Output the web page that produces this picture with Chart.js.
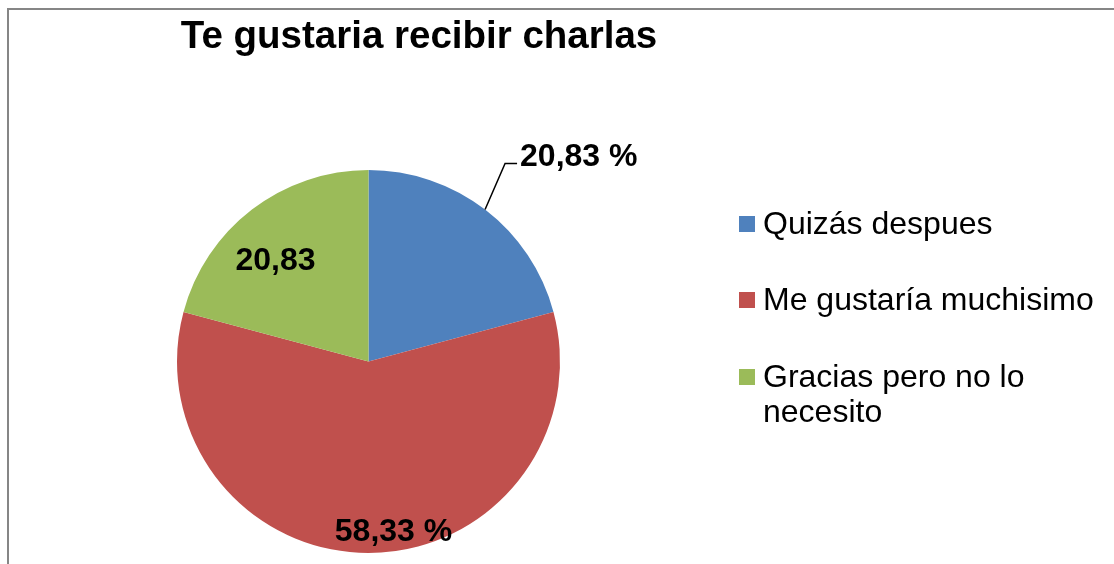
<!DOCTYPE html>
<html lang="es">
<head>
    <meta charset="UTF-8">
    <title>Te gustaria recibir charlas</title>
    <style>
        body {
            margin: 0;
            background: #fff;
        }
        canvas {
            display: block;
        }
    </style>
</head>
<body>
    <canvas id="pie-chart" width="1114" height="564"></canvas>

    <script src="https://cdn.jsdelivr.net/npm/chart.js"></script>
    <script>
        const chartTitle = 'Te gustaria recibir charlas';
        const categories = ['Quizás despues', 'Me gustaría muchisimo', 'Gracias pero no lo necesito'];
        const legendLines = [['Quizás despues'], ['Me gustaría muchisimo'], ['Gracias pero no lo', 'necesito']];
        const percentages = [20.83, 58.33, 20.83];
        const valueLabels = ['20,83 %', '58,33 %', '20,83'];
        const sliceColors = ['#4F81BD', '#C0504D', '#9BBB59'];

        const FONT = "'Liberation Sans', Arial, sans-serif";

        // frame, title, legend and the value labels are drawn by hand
        const decorations = {
            id: 'decorations',
            beforeDraw(chart) {
                const ctx = chart.ctx;
                ctx.save();
                ctx.fillStyle = '#fff';
                ctx.fillRect(0, 0, chart.width, chart.height);
                ctx.strokeStyle = '#868686';
                ctx.lineWidth = 2;
                ctx.beginPath();
                ctx.moveTo(8, chart.height);
                ctx.lineTo(8, 9);
                ctx.lineTo(chart.width, 9);
                ctx.stroke();
                ctx.restore();
            },
            afterDraw(chart) {
                const ctx = chart.ctx;
                ctx.save();
                ctx.fillStyle = '#000';
                ctx.textBaseline = 'alphabetic';

                // title
                ctx.font = 'bold 38.5px ' + FONT;
                ctx.textAlign = 'center';
                ctx.fillText(chartTitle, 419, 48);

                // legend
                ctx.textAlign = 'left';
                ctx.font = '32px ' + FONT;
                const rowBase = [234, 310, 387];
                legendLines.forEach((lines, i) => {
                    ctx.fillStyle = sliceColors[i];
                    ctx.fillRect(739, rowBase[i] - 18, 16, 16);
                    ctx.fillStyle = '#000';
                    lines.forEach((line, j) => {
                        ctx.fillText(line, 763, rowBase[i] + j * 35);
                    });
                });

                // value labels
                const arcs = chart.getDatasetMeta(0).data;
                ctx.font = 'bold 32px ' + FONT;
                arcs.forEach((arc, i) => {
                    const mid = (arc.startAngle + arc.endAngle) / 2;
                    const r = arc.outerRadius;
                    if (i === 0) {
                        // outside label with leader line
                        const ex = arc.x + Math.cos(mid) * r;
                        const ey = arc.y + Math.sin(mid) * r;
                        ctx.strokeStyle = '#000';
                        ctx.lineWidth = 1.5;
                        ctx.beginPath();
                        ctx.moveTo(ex, ey);
                        ctx.lineTo(ex + 20, ey - 46);
                        ctx.lineTo(ex + 32, ey - 46);
                        ctx.stroke();
                        ctx.textAlign = 'left';
                        ctx.fillText(valueLabels[i], ex + 35, ey - 44);
                    } else if (i === 1) {
                        const px = arc.x + Math.cos(mid) * r * 0.88;
                        const py = arc.y + Math.sin(mid) * r * 0.88;
                        ctx.textAlign = 'center';
                        ctx.fillText(valueLabels[i], px + 25, py + 11);
                    } else {
                        const px = arc.x + Math.cos(mid) * r * 0.72;
                        const py = arc.y + Math.sin(mid) * r * 0.72;
                        ctx.textAlign = 'center';
                        ctx.fillText(valueLabels[i], px - 9, py + 18);
                    }
                });
                ctx.restore();
            }
        };

        const ctx = document.getElementById('pie-chart').getContext('2d');
        new Chart(ctx, {
            type: 'pie',
            data: {
                labels: categories,
                datasets: [{
                    data: percentages,
                    backgroundColor: sliceColors,
                    borderWidth: 0
                }]
            },
            options: {
                responsive: false,
                animation: false,
                layout: {
                    padding: { left: 177, right: 554, top: 170, bottom: 11 }
                },
                plugins: {
                    legend: { display: false },
                    title: { display: false },
                    tooltip: { enabled: false }
                }
            },
            plugins: [decorations]
        });
    </script>
</body>
</html>
